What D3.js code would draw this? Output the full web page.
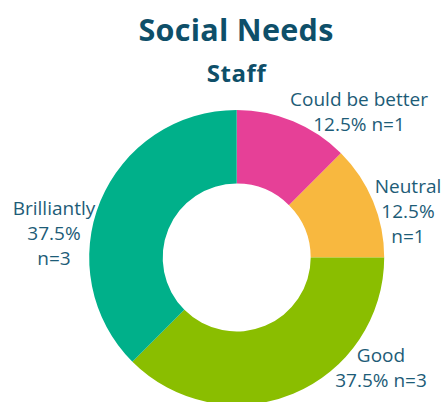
<!DOCTYPE html>
<html><head><meta charset="utf-8">
<script src="https://cdn.jsdelivr.net/npm/d3@7"></script>
<style>html,body{margin:0;padding:0;background:#fff;}svg{display:block;}</style>
</head><body>
<svg id="chart" width="443" height="402"></svg>
<script>
const categories = ["Could be better", "Neutral", "Good", "Brilliantly"];
const counts = [1, 1, 3, 3];
const colors = ["#e64097", "#f8b83f", "#8abe00", "#00b08a"];
// how each label is broken into lines: which parts go on each line
const labelLines = [
  [["name"], ["pct", "n"]],
  [["name"], ["pct"], ["n"]],
  [["name"], ["pct", "n"]],
  [["name"], ["pct"], ["n"]]
];
const labelPos = [[359, 106], [408, 193], [381, 362], [54, 215]];

const W = 443, H = 402;
const cx = 236.7, cy = 257.5, rOuter = 147.5, rInner = 74;
const svg = d3.select("#chart");
const font = "'Open Sans', sans-serif";

svg.append("text").attr("x", 236).attr("y", 41).attr("text-anchor", "middle")
  .attr("font-family", font).attr("font-weight", 700).attr("font-size", 30.5)
  .attr("letter-spacing", 0.3)
  .attr("fill", "#0e4f69").text("Social Needs");
svg.append("text").attr("x", 236.5).attr("y", 82).attr("text-anchor", "middle")
  .attr("font-family", font).attr("font-weight", 700).attr("font-size", 24)
  .attr("letter-spacing", 0.6)
  .attr("fill", "#0e4f69").text("Staff");

const total = d3.sum(counts);
const data = categories.map((c, i) => ({name: c, value: counts[i], color: colors[i], i}));
const pie = d3.pie().value(d => d.value).sort(null);
const arc = d3.arc().innerRadius(rInner).outerRadius(rOuter);
const g = svg.append("g").attr("transform", `translate(${cx},${cy})`);
g.selectAll("path").data(pie(data)).join("path")
  .attr("d", arc).attr("fill", d => d.data.color);

const fmt = d3.format(".1f");
data.forEach((d, i) => {
  const parts = {name: d.name, pct: fmt(d.value / total * 100) + "%", n: "n=" + d.value};
  const t = svg.append("text").attr("text-anchor", "middle")
    .attr("font-family", font).attr("font-size", 19).attr("fill", "#1d5c77");
  labelLines[i].forEach((line, j) => {
    t.append("tspan").attr("x", labelPos[i][0]).attr("y", labelPos[i][1] + j * 25)
      .text(line.map(k => parts[k]).join(" "));
  });
});
</script>
</body></html>
